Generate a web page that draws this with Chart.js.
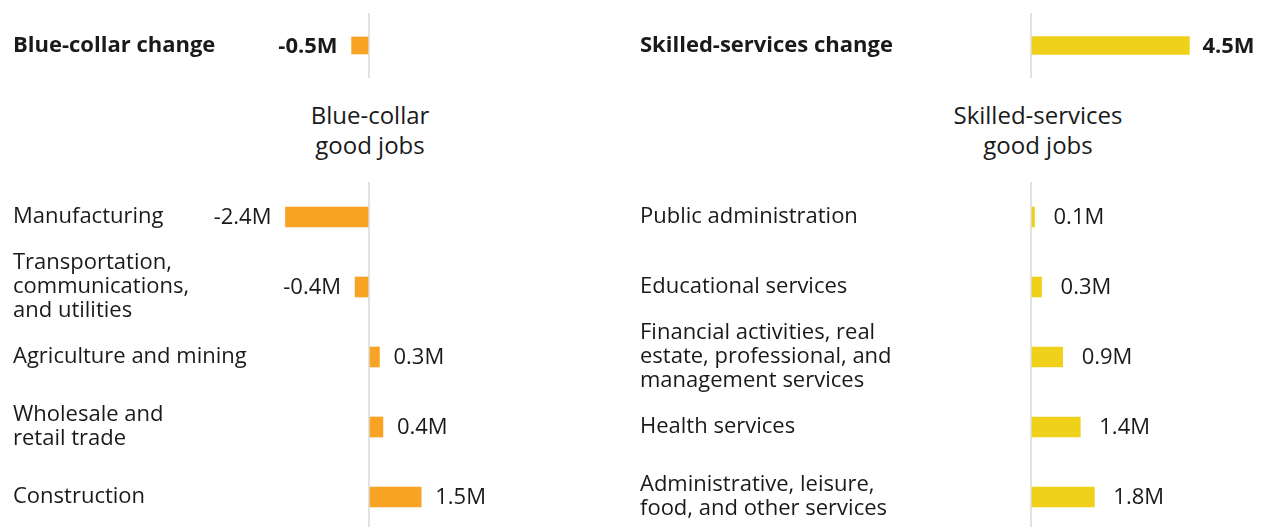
<!DOCTYPE html>
<html><head><meta charset="utf-8">
<script src="https://cdn.jsdelivr.net/npm/chart.js@4"></script>
<style>
html,body{margin:0;padding:0;background:#fff;}
body{width:1270px;height:527px;overflow:hidden;position:relative;font-family:"Open Sans",sans-serif;}
canvas{position:absolute;}
.title{position:absolute;text-align:center;font-size:24px;line-height:30px;color:#1a1a1a;width:300px;}
</style></head><body>
<canvas id="tl" width="635" height="78" style="left:0;top:0"></canvas>
<canvas id="tr" width="643" height="78" style="left:627px;top:0"></canvas>
<canvas id="bl" width="635" height="350" style="left:0;top:182px"></canvas>
<canvas id="br" width="643" height="350" style="left:627px;top:182px"></canvas>
<div class="title" id="t0" style="left:220px;top:100px"></div>
<div class="title" id="t1" style="left:888px;top:100px"></div>
<script>
// ---- data ----
const changeCategories = ["Blue-collar change", "Skilled-services change"];
const changeValues = [-0.5, 4.5];
const blueCategories = [["Manufacturing"], ["Transportation,", "communications,", "and utilities"], ["Agriculture and mining"], ["Wholesale and", "retail trade"], ["Construction"]];
const blueValues = [-2.4, -0.4, 0.3, 0.4, 1.5];
const skilledCategories = [["Public administration"], ["Educational services"], ["Financial activities, real", "estate, professional, and", "management services"], ["Health services"], ["Administrative, leisure,", "food, and other services"]];
const skilledValues = [0.1, 0.3, 0.9, 1.4, 1.8];
const panelTitles = [["Blue-collar", "good jobs"], ["Skilled-services", "good jobs"]];

// ---- colours / layout ----
const ORANGE = '#F8A324';
const YELLOW = '#EFD11B';
const TEXT = '#1a1a1a';
const FONT = '"Open Sans", sans-serif';

document.getElementById('t0').innerHTML = panelTitles[0].join('<br>');
document.getElementById('t1').innerHTML = panelTitles[1].join('<br>');

const valueLabels = {
  id: 'valueLabels',
  afterDatasetsDraw(chart, args, opts) {
    const ctx = chart.ctx;
    const meta = chart.getDatasetMeta(0);
    const data = chart.data.datasets[0].data;
    ctx.save();
    ctx.font = opts.font;
    ctx.fillStyle = TEXT;
    ctx.textBaseline = 'middle';
    meta.data.forEach((bar, i) => {
      const v = data[i];
      const txt = v.toFixed(1) + 'M';
      if (v < 0) { ctx.textAlign = 'right'; ctx.fillText(txt, bar.x - opts.gap, bar.y + 1); }
      else { ctx.textAlign = 'left'; ctx.fillText(txt, bar.x + opts.gap, bar.y + 1); }
    });
    ctx.restore();
  }
};

function makeChart(id, labels, values, color, o) {
  const canvas = document.getElementById(id);
  const W = canvas.width;
  const areaLeft = o.padLeft + o.axisWidth;
  const areaRight = W;
  const min = -(o.zeroX - areaLeft) / o.pxPerM;
  const max = (areaRight - o.zeroX) / o.pxPerM;
  return new Chart(canvas, {
    type: 'bar',
    data: { labels: labels, datasets: [{ data: values, backgroundColor: color, barThickness: o.barThickness, borderWidth: 0 }] },
    options: {
      indexAxis: 'y',
      responsive: false,
      animation: false,
      layout: { padding: { left: o.padLeft, right: 0, top: o.padTop, bottom: 0 } },
      plugins: {
        legend: { display: false },
        tooltip: { enabled: false },
        valueLabels: { font: (o.bold ? 'bold ' : '') + o.valueSize + 'px ' + FONT, gap: o.gap }
      },
      scales: {
        x: {
          min: min, max: max,
          afterBuildTicks: s => { s.ticks = [{ value: 0 }]; },
          afterFit: s => { s.height = 0; s.paddingLeft = 0; s.paddingRight = 0; },
          ticks: { display: false },
          border: { display: false },
          grid: { color: '#e2e2e2', lineWidth: 2, drawTicks: false }
        },
        y: {
          afterFit: s => { s.width = o.axisWidth; s.paddingTop = 0; s.paddingBottom = 0; },
          grid: { display: false },
          border: { display: false },
          ticks: {
            autoSkip: false,
            crossAlign: 'far',
            color: TEXT,
            font: { family: FONT, size: o.labelSize, weight: o.bold ? 'bold' : 'normal', lineHeight: 1.1 }
          }
        }
      }
    },
    plugins: [valueLabels]
  });
}

const PX_LEFT = 34.8;
const PX_RIGHT = 35.2;
// left panels: zero line at page x=369; right panels: zero at page x=1031 (canvas offset 627)
makeChart('tl', [changeCategories[0]], [changeValues[0]], ORANGE,
  { padLeft: 13, axisWidth: 267, zeroX: 369, pxPerM: PX_LEFT, barThickness: 17, padTop: 13, labelSize: 22, valueSize: 22, bold: true, gap: 14 });
makeChart('tr', [changeCategories[1]], [changeValues[1]], YELLOW,
  { padLeft: 13, axisWidth: 381, zeroX: 1031 - 627, pxPerM: PX_RIGHT, barThickness: 18, padTop: 13, labelSize: 22, valueSize: 22, bold: true, gap: 13 });
makeChart('bl', blueCategories, blueValues, ORANGE,
  { padLeft: 13, axisWidth: 267, zeroX: 369, pxPerM: PX_LEFT, barThickness: 20, padTop: 0, labelSize: 22, valueSize: 22, bold: false, gap: 14 });
makeChart('br', skilledCategories, skilledValues, YELLOW,
  { padLeft: 13, axisWidth: 381, zeroX: 1031 - 627, pxPerM: PX_RIGHT, barThickness: 20, padTop: 0, labelSize: 22, valueSize: 22, bold: false, gap: 19 });
</script>
</body></html>
